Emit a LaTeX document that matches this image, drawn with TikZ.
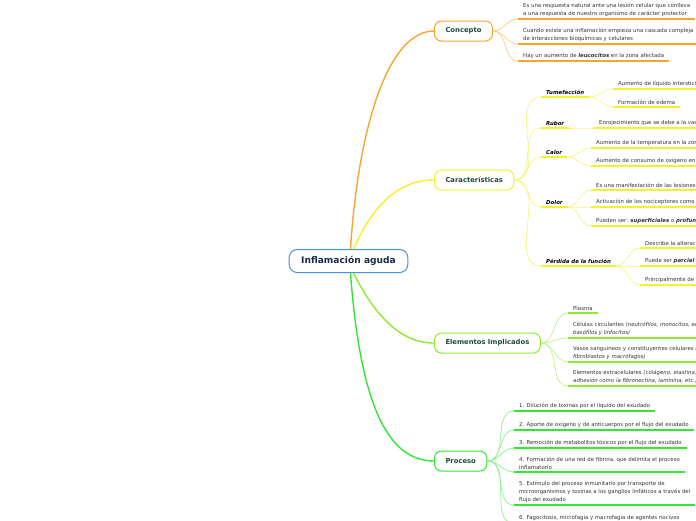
\documentclass[tikz,border=0pt]{standalone}
\usepackage{fontspec}
\setmainfont{DejaVu Sans}
\usetikzlibrary{positioning}

\definecolor{rootblue}{HTML}{4A90D9}
\definecolor{roottext}{HTML}{1C2B4A}
\definecolor{topictext}{HTML}{1D4A3C}
\definecolor{leaftext}{HTML}{333333}
\definecolor{orangeC}{HTML}{F6A531}
\definecolor{orangeL}{HTML}{F9CB80}
\definecolor{yellowC}{HTML}{F2F22A}
\definecolor{yellowL}{HTML}{F4F480}
\definecolor{limeC}{HTML}{8DEB2F}
\definecolor{limeL}{HTML}{BCF285}
\definecolor{greenC}{HTML}{33E633}
\definecolor{greenL}{HTML}{8EF08E}

\tikzset{
  rootnode/.style={draw=rootblue, line width=1pt, rounded corners=8pt, fill=white,
    text=roottext, font=\fontsize{9.1}{11}\selectfont\bfseries, minimum height=23pt, inner xsep=12pt},
  topic/.style={draw=#1, line width=1pt, rounded corners=7pt, fill=white, anchor=west,
    text=topictext, font=\fontsize{6.8}{8}\selectfont\bfseries, minimum height=20pt, inner xsep=11pt},
  leaf/.style={anchor=south west, align=left, inner xsep=5pt, inner ysep=2.6pt,
    text=leaftext, font=\fontsize{5.4}{7.6}\selectfont},
  sublabel/.style={leaf, text=black, font=\fontsize{5.4}{7.6}\selectfont\bfseries\itshape},
  branch/.style={draw=#1, line width=1.4pt},
  twig/.style={draw=#1, line width=0.7pt},
  uline/.style={draw=#1, line width=1.6pt},
}

\begin{document}
\begin{tikzpicture}[x=1pt, y=-1pt]
  \useasboundingbox (0,0) rectangle (696,520);
  \clip (0,0) rectangle (696,520);

  % root and main topics
  \node[rootnode] (root) at (348.5,261) {Inflamación aguda};
  \node[topic=orangeC] (concepto) at (434,31) {Concepto};
  \node[topic=yellowC] (caract) at (434,180) {Características};
  \node[topic=limeC] (elem) at (434,343) {Elementos Implicados};
  \node[topic=greenC] (proceso) at (434,461) {Proceso};

  \draw[branch=orangeC] ([xshift=2pt]root.north) .. controls +(8,-125) and +(-45,0) .. (concepto.west);
  \draw[branch=yellowC] ([xshift=5pt]root.north) .. controls +(20,-45) and +(-35,0) .. (caract.west);
  \draw[branch=limeC] ([xshift=5pt]root.south) .. controls +(20,40) and +(-35,0) .. (elem.west);
  \draw[branch=greenC] ([xshift=2pt]root.south) .. controls +(10,135) and +(-45,0) .. (proceso.west);

  % Concepto
  \node[leaf] (c1) at (518,19) {Es una respuesta natural ante una lesión celular que conlleva\\a una respuesta de nuestro organismo de carácter protector};
  \node[leaf] (c2) at (518,44) {Cuando existe una inflamación empieza una cascada compleja\\de interacciones bioquímicas y celulares};
  \node[leaf] (c3) at (518,61) {Hay un aumento de \textbf{\textit{leucocitos}} en la zona afectada};
  \foreach \n in {c1,c2,c3} {
    \draw[twig=orangeL] (concepto.east) to[out=0,in=180] (\n.south west);
    \draw[uline=orangeC] (\n.south west) -- (\n.south east);
  }

  % Caracteristicas
  \node[sublabel] (tume) at (541,97) {Tumefacción};
  \node[sublabel] (rubor) at (541,128) {Rubor};
  \node[sublabel] (calor) at (541,157) {Calor};
  \node[sublabel] (dolor) at (541,207) {Dolor};
  \node[sublabel] (perdida) at (541,266) {Pérdida de la función};
  \foreach \n in {tume,rubor,calor,dolor,perdida} {
    \draw[twig=yellowL] (caract.east) to[out=0,in=180] (\n.south west);
    \draw[uline=yellowC] (\n.south west) -- (\n.south east);
  }

  \node[leaf] (t1) at (613,89) {Aumento de líquido intersticial};
  \node[leaf] (t2) at (613,107) {Formación de edema};
  \node[leaf] (r1) at (594,128) {Enrojecimiento que se debe a la vasodilatación};
  \node[leaf] (k1) at (591,148) {Aumento de la temperatura en la zona};
  \node[leaf] (k2) at (591,166) {Aumento de consumo de oxígeno en la zona};
  \node[leaf] (d1) at (591,190) {Es una manifestación de las lesiones};
  \node[leaf] (d2) at (591,207) {Activación de los nociceptores como};
  \node[leaf] (d3) at (591,226) {Pueden ser: \textbf{\textit{superficiales}} o \textbf{\textit{profundos}}};
  \node[leaf] (p1) at (640,248) {Describe la alteración};
  \node[leaf] (p2) at (640,266) {Puede ser \textbf{\textit{parcial}}};
  \node[leaf] (p3) at (640,285) {Principalmente de};
  \foreach \a/\b in {tume/t1,tume/t2,rubor/r1,calor/k1,calor/k2,dolor/d1,dolor/d2,dolor/d3,
                     perdida/p1,perdida/p2,perdida/p3} {
    \draw[twig=yellowL] (\a.south east) to[out=0,in=180] (\b.south west);
    \draw[uline=yellowC] (\b.south west) -- (\b.south east);
  }

  % Elementos implicados
  \node[leaf] (e1) at (568,313) {Plasma};
  \node[leaf] (e2) at (568,338) {Células circulantes \textit{(neutrófilos, monocitos, eosinófilos,}\\\textit{basófilos y linfocitos)}};
  \node[leaf] (e3) at (568,362) {Vasos sanguíneos y constituyentes celulares \textit{(mastocitos,}\\\textit{fibroblastos y macrófagos)}};
  \node[leaf] (e4) at (568,386) {Elementos extracelulares \textit{(colágeno, elastina,}\\\textit{adhesión como la fibronectina, laminina, etc.)}};
  \foreach \n in {e1,e2,e3,e4} {
    \draw[twig=limeL] (elem.east) to[out=0,in=180] (\n.south west);
    \draw[uline=limeC] (\n.south west) -- (\n.south east);
  }

  % Proceso
  \node[leaf] (q1) at (514,411) {1. Dilución de toxinas por el líquido del exudado};
  \node[leaf] (q2) at (514,430) {2. Aporte de oxígeno y de anticuerpos por el flujo del exudado};
  \node[leaf] (q3) at (514,448) {3. Remoción de metabolitos tóxicos por el flujo del exudado};
  \node[leaf] (q4) at (514,472) {4. Formación de una red de fibrina, que delimita el proceso\\inflamatorio};
  \node[leaf] (q5) at (514,505) {5. Estímulo del proceso inmunitario por transporte de\\microorganismos y toxinas a los ganglios linfáticos a través del\\flujo del exudado};
  \node[leaf] (q6) at (514,523) {6. Fagocitosis, microfagia y macrofagia de agentes nocivos};
  \foreach \n in {q1,q2,q3,q4,q5,q6} {
    \draw[twig=greenL] (proceso.east) to[out=0,in=180] (\n.south west);
    \draw[uline=greenC] (\n.south west) -- (\n.south east);
  }
\end{tikzpicture}
\end{document}
